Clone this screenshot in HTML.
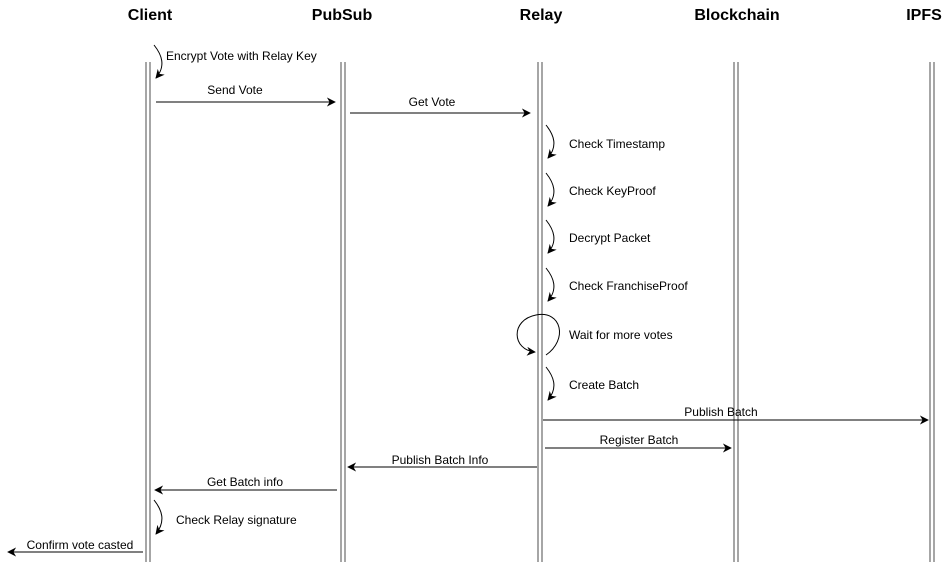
<!DOCTYPE html>
<html><head><meta charset="utf-8"><style>body{margin:0;background:#fff}svg{display:block}text{font-family:"Liberation Sans",Arial,sans-serif;font-size:12px;fill:#000}.h{font-size:16px;font-weight:bold}</style></head><body>
<svg width="947" height="562" viewBox="0 0 947 562" xmlns="http://www.w3.org/2000/svg">
<defs><marker id="a" viewBox="0 0 10 10" refX="9" refY="5" markerWidth="9" markerHeight="9" orient="auto-start-reverse" markerUnits="userSpaceOnUse"><path d="M0,0 L10,5 L0,10 L3,5 z" fill="#000"/></marker></defs>
<g text-anchor="middle">
<text class="h" x="150" y="20">Client</text>
<text class="h" x="342" y="20">PubSub</text>
<text class="h" x="541" y="20">Relay</text>
<text class="h" x="737" y="20">Blockchain</text>
<text class="h" x="924" y="20">IPFS</text>
</g>
<g stroke="#888" stroke-width="1.5">
<line x1="146" y1="62" x2="146" y2="562"/><line x1="150" y1="62" x2="150" y2="562"/>
<line x1="341" y1="62" x2="341" y2="562"/><line x1="345" y1="62" x2="345" y2="562"/>
<line x1="538" y1="62" x2="538" y2="562"/><line x1="542" y1="62" x2="542" y2="562"/>
<line x1="734" y1="62" x2="734" y2="562"/><line x1="738" y1="62" x2="738" y2="562"/>
<line x1="930" y1="62" x2="930" y2="562"/><line x1="934" y1="62" x2="934" y2="562"/>
</g>
<g stroke="#000" stroke-width="1" fill="none" marker-end="url(#a)">
<line x1="156" y1="102" x2="335" y2="102"/>
<line x1="350" y1="113" x2="530" y2="113"/>
<line x1="543" y1="420" x2="928" y2="420"/>
<line x1="545" y1="448" x2="731" y2="448"/>
<line x1="537" y1="467" x2="348" y2="467"/>
<line x1="337" y1="490" x2="155" y2="490"/>
<line x1="143" y1="552" x2="8" y2="552"/>
<path d="M154,45 C162,55 166,66 156,78"/>
<path d="M546,125 C554,135 558,146 548,158"/>
<path d="M546,173 C554,183 558,194 548,206"/>
<path d="M546,220 C554,230 558,241 548,253"/>
<path d="M546,268 C554,278 558,289 548,301"/>
<path d="M546,355 C568,340 562,310 536,315 C510,320 512,350 535,352"/>
<path d="M546,367 C554,377 558,388 548,400"/>
<path d="M154,500 C162,510 166,521 156,534"/>
</g>
<text x="166" y="60">Encrypt Vote with Relay Key</text>
<text x="235" y="94" text-anchor="middle">Send Vote</text>
<text x="432" y="106" text-anchor="middle">Get Vote</text>
<text x="569" y="148">Check Timestamp</text>
<text x="569" y="195">Check KeyProof</text>
<text x="569" y="242">Decrypt Packet</text>
<text x="569" y="290">Check FranchiseProof</text>
<text x="569" y="339">Wait for more votes</text>
<text x="569" y="389">Create Batch</text>
<text x="721" y="416" text-anchor="middle">Publish Batch</text>
<text x="639" y="444" text-anchor="middle">Register Batch</text>
<text x="440" y="464" text-anchor="middle">Publish Batch Info</text>
<text x="245" y="486" text-anchor="middle">Get Batch info</text>
<text x="176" y="524">Check Relay signature</text>
<text x="80" y="549" text-anchor="middle">Confirm vote casted</text>
</svg>
</body></html>
